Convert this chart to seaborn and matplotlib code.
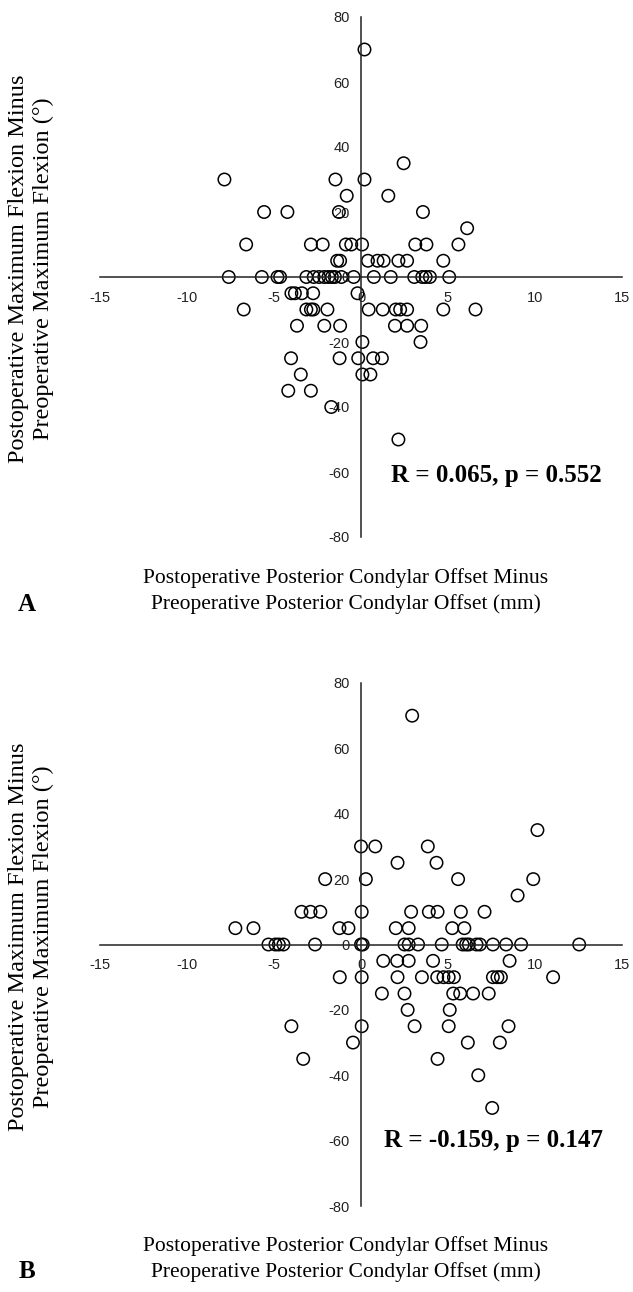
import matplotlib
matplotlib.use("Agg")
import matplotlib.pyplot as plt
import pandas as pd
import seaborn as sns

# ---------------- data ----------------
# Panel A: change in posterior condylar offset (mm) vs change in max flexion (deg)
a_x = [0.2,
       2.45,
       -7.85, -1.47, 0.2,
       -0.82, 1.57,
       -5.57, -4.23, -1.27, 3.56,
       6.1,
       -6.6, -2.88, -2.2, -0.87, -0.56, 0.06, 3.12, 3.76, 5.6,
       -1.37, -1.2, 0.4, 0.95, 1.3, 2.15, 2.65, 4.73,
       -7.6, -5.7, -4.8, -4.65, -3.14, -2.72, -2.41, -2.11, -1.87, -1.67,
       -1.5, -1.13, -0.42, 0.74, 1.71, 3.06, 3.52, 3.72, 3.96, 5.07,
       -4.0, -3.8, -3.4, -2.75, -0.2,
       -6.74, -3.14, -2.88, -2.74, -1.93, 0.44, 1.25, 2.0, 2.25, 2.65, 4.73, 6.58,
       -3.68, -2.11, -1.2, 1.95, 2.65, 3.46,
       0.08, 3.42,
       -4.02, -1.23, -0.16, 0.7, 1.2,
       -3.46, 0.08, 0.54,
       -4.18, -2.88,
       -1.71,
       2.15]
a_y = [70,
       35,
       30, 30, 30,
       25, 25,
       20, 20, 20, 20,
       15,
       10, 10, 10, 10, 10, 10, 10, 10, 10,
       5, 5, 5, 5, 5, 5, 5, 5,
       0, 0, 0, 0, 0, 0, 0, 0, 0, 0,
       0, 0, 0, 0, 0, 0, 0, 0, 0, 0,
       -5, -5, -5, -5, -5,
       -10, -10, -10, -10, -10, -10, -10, -10, -10, -10, -10, -10,
       -15, -15, -15, -15, -15, -15,
       -20, -20,
       -25, -25, -25, -25, -25,
       -30, -30, -30,
       -35, -35,
       -40,
       -50]

# Panel B
b_x = [2.94,
       10.14,
       0.0, 0.82, 3.84,
       2.1, 4.34,
       -2.06, 0.28, 5.58, 9.9,
       9.0,
       -3.42, -2.9, -2.34, 0.04, 2.88, 3.9, 4.4, 5.74, 7.1,
       -7.22, -6.18, -1.24, -0.72, 2.0, 2.74, 5.24, 5.94,
       -5.32, -4.92, -4.72, -4.46, -2.64, 0.0, 0.1, 2.5, 2.74, 3.28,
       4.64, 5.84, 6.04, 6.2, 6.64, 6.84, 7.58, 8.34, 9.2, 12.54,
       1.28, 2.08, 2.74, 4.14, 8.54,
       -1.22, 0.04, 2.1, 3.5, 4.38, 4.74, 5.04, 5.34, 7.58, 7.84, 8.04, 11.04,
       1.2, 2.5, 5.3, 5.7, 6.44, 7.34,
       2.68, 5.1,
       -4.0, 0.04, 3.08, 5.04, 8.48,
       -0.46, 6.14, 7.98,
       -3.32, 4.4,
       6.74,
       7.54]
b_y = [70,
       35,
       30, 30, 30,
       25, 25,
       20, 20, 20, 20,
       15,
       10, 10, 10, 10, 10, 10, 10, 10, 10,
       5, 5, 5, 5, 5, 5, 5, 5,
       0, 0, 0, 0, 0, 0, 0, 0, 0, 0,
       0, 0, 0, 0, 0, 0, 0, 0, 0, 0,
       -5, -5, -5, -5, -5,
       -10, -10, -10, -10, -10, -10, -10, -10, -10, -10, -10, -10,
       -15, -15, -15, -15, -15, -15,
       -20, -20,
       -25, -25, -25, -25, -25,
       -30, -30, -30,
       -35, -35,
       -40,
       -50]

x_ticks = [-15, -10, -5, 0, 5, 10, 15]
y_ticks = [-80, -60, -40, -20, 0, 20, 40, 60, 80]
stats = ["R = 0.065, p = 0.552", "R = -0.159, p = 0.147"]
panel_letters = ["A", "B"]
xlabel_text = "Postoperative Posterior Condylar Offset Minus\nPreoperative Posterior Condylar Offset (mm)"
ylabel_text = "Postoperative Maximum Flexion Minus\nPreoperative Maximum Flexion (\u00b0)"

# ---------------- style ----------------
sns.set_style("white")
plt.rcParams["font.family"] = ["Liberation Sans", "DejaVu Sans"]

W, H = 633, 1292
fig = plt.figure(figsize=(W / 100, H / 100), dpi=100)

serif = ["Liberation Serif", "DejaVu Serif"]

panels = [
    dict(df=pd.DataFrame({"x": a_x, "y": a_y}), rect=[100 / W, 1 - 537 / H, 522 / W, 520 / H],
         stat_xy=(7.8, -61), xl_y=1 - 591 / H, yl_y=1 - 269 / H, letter_y=1 - 604 / H),
    dict(df=pd.DataFrame({"x": b_x, "y": b_y}), rect=[100 / W, 1 - 1206 / H, 522 / W, 523 / H],
         stat_xy=(7.6, -60), xl_y=1 - 1259 / H, yl_y=1 - 937 / H, letter_y=1 - 1272 / H),
]

for i, p in enumerate(panels):
    ax = fig.add_axes(p["rect"])
    sns.scatterplot(data=p["df"], x="x", y="y", ax=ax, marker="o", s=80,
                    facecolor="none", edgecolor="black", linewidth=1.1, clip_on=False)
    ax.set_xlim(-15, 15)
    ax.set_ylim(-80, 80)
    ax.set_xticks(x_ticks)
    ax.set_yticks(y_ticks)
    ax.set_xticklabels([str(t) for t in x_ticks])
    ax.set_yticklabels([str(t) for t in y_ticks])
    for side in ["top", "right"]:
        ax.spines[side].set_visible(False)
    ax.spines["left"].set_position(("data", 0))
    ax.spines["bottom"].set_position(("data", 0))
    for side in ["left", "bottom"]:
        ax.spines[side].set_color("#222222")
        ax.spines[side].set_linewidth(1.1)
    ax.tick_params(axis="x", direction="out", length=3, width=1.0, pad=7,
                   labelsize=10.5, colors="#222222")
    ax.tick_params(axis="y", direction="out", length=3, width=1.0, pad=5,
                   labelsize=10.5, colors="#222222")
    ax.set_xlabel("")
    ax.set_ylabel("")
    ax.patch.set_alpha(0)

    ax.text(p["stat_xy"][0], p["stat_xy"][1], stats[i], ha="center", va="center",
            fontsize=18, fontweight="bold", family=serif, color="black")

    fig.text(346 / W, p["xl_y"], xlabel_text, ha="center", va="center",
             fontsize=15.5, family=serif, color="black", linespacing=1.35)
    fig.text(31 / W, p["yl_y"], ylabel_text, ha="center", va="center", rotation=90,
             fontsize=17.5, family=serif, color="black", linespacing=1.2)
    fig.text(27 / W, p["letter_y"], panel_letters[i], ha="center", va="center",
             fontsize=18, fontweight="bold", family=serif, color="black")

fig.savefig("out.png", dpi=100, facecolor="white")
